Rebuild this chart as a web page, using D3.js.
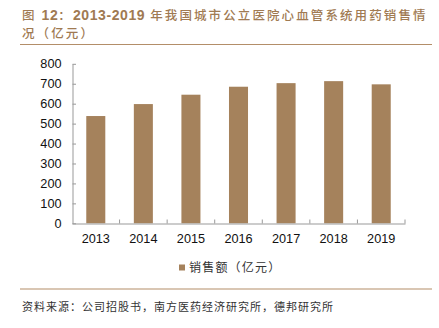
<!DOCTYPE html>
<html><head><meta charset="utf-8">
<script src="https://cdn.jsdelivr.net/npm/d3@7"></script>
<style>
body{margin:0;background:#fff;}
svg{display:block;}
</style></head>
<body><svg id="c" width="439" height="328"></svg>
<script>
const years = ["2013","2014","2015","2016","2017","2018","2019"];
const sales = [538, 598, 645, 685, 703, 713, 697];
const yTicks = [0,100,200,300,400,500,600,700,800];
// title pieces: [text, isLatin]
const titleLine1 = [["图 ",false],["12",true],["：",false],["2013-2019",true],[" 年我国城市公立医院心血管系统用药销售情",false]];
const titleLine2 = [["况（亿元）",false]];
const legendLabel = "销售额（亿元）";
const sourceText = "资料来源：公司招股书，南方医药经济研究所，德邦研究所";

const svg = d3.select("#c");
const brown = "#a5825c";
const titleColor = "#a07a52";
const cjk = "'Noto Sans CJK SC', sans-serif";
const lat = "'Liberation Sans', Arial, sans-serif";

function titleLine(parts, yPos){
  const t = svg.append("text").attr("x",22).attr("y",yPos).attr("fill",titleColor);
  t.selectAll("tspan").data(parts).join("tspan")
    .attr("font-family", d=>d[1]? lat : cjk)
    .attr("font-weight", d=>d[1]? "bold" : 500)
    .attr("font-size", d=>d[1]? 14 : 12.5)
    .attr("letter-spacing", d=>d[1]? 0.6 : 2.1)
    .text(d=>d[0]);
}
titleLine(titleLine1, 20);
titleLine(titleLine2, 38);
svg.append("line").attr("x1",20).attr("x2",432).attr("y1",44.5).attr("y2",44.5)
  .attr("stroke","#b38e69").attr("stroke-width",1.2);

const x = d3.scaleBand().domain(years).range([72, 405]).paddingInner(0.6).paddingOuter(0.3);
const xb = d3.scaleBand().domain(years).range([72, 405]);
const y = d3.scaleLinear().domain([0, 800]).range([223.3, 63.8]);

svg.selectAll("rect.bar").data(years).join("rect")
  .attr("x", d=>x(d)).attr("width", x.bandwidth())
  .attr("y", (d,i)=>y(sales[i])).attr("height", (d,i)=>y(0)-y(sales[i]))
  .attr("fill", brown);

// y axis
const ya = svg.append("g").attr("transform","translate(72.5,0)")
  .call(d3.axisLeft(y).tickValues(yTicks).tickSizeInner(-3.5).tickSizeOuter(0).tickPadding(11));
ya.select(".domain").attr("stroke","#999");
ya.selectAll(".tick line").attr("stroke","#999");
ya.selectAll("text").attr("font-family",lat).attr("font-size",12.7).attr("fill","#111");

// x axis
const xa = svg.append("g").attr("transform","translate(0,223.5)")
  .call(d3.axisBottom(xb).tickSize(0).tickPadding(10));
xa.select(".domain").attr("stroke","#999");
xa.selectAll("text").attr("font-family",lat).attr("font-size",12.7).attr("fill","#111");
// boundary ticks
const bounds = years.map(d=>xb(d)).concat([xb.range()[1]]).slice(1);
svg.selectAll("line.bt").data(bounds).join("line")
  .attr("x1",d=>d).attr("x2",d=>d).attr("y1",219.5).attr("y2",223.5)
  .attr("stroke","#999");

// legend
svg.append("rect").attr("x",179).attr("y",264.5).attr("width",6).attr("height",6).attr("fill",brown);
svg.append("text").attr("x",189).attr("y",272).attr("font-family",cjk).attr("font-size",12)
  .attr("letter-spacing",1.2).attr("fill","#333").text(legendLabel);

svg.append("line").attr("x1",20).attr("x2",432).attr("y1",289).attr("y2",289)
  .attr("stroke","#b38e69").attr("stroke-width",1.2);
svg.append("text").attr("x",22).attr("y",311).attr("font-family",cjk).attr("font-size",11)
  .attr("letter-spacing",1).attr("fill","#333").text(sourceText);
</script></body></html>
